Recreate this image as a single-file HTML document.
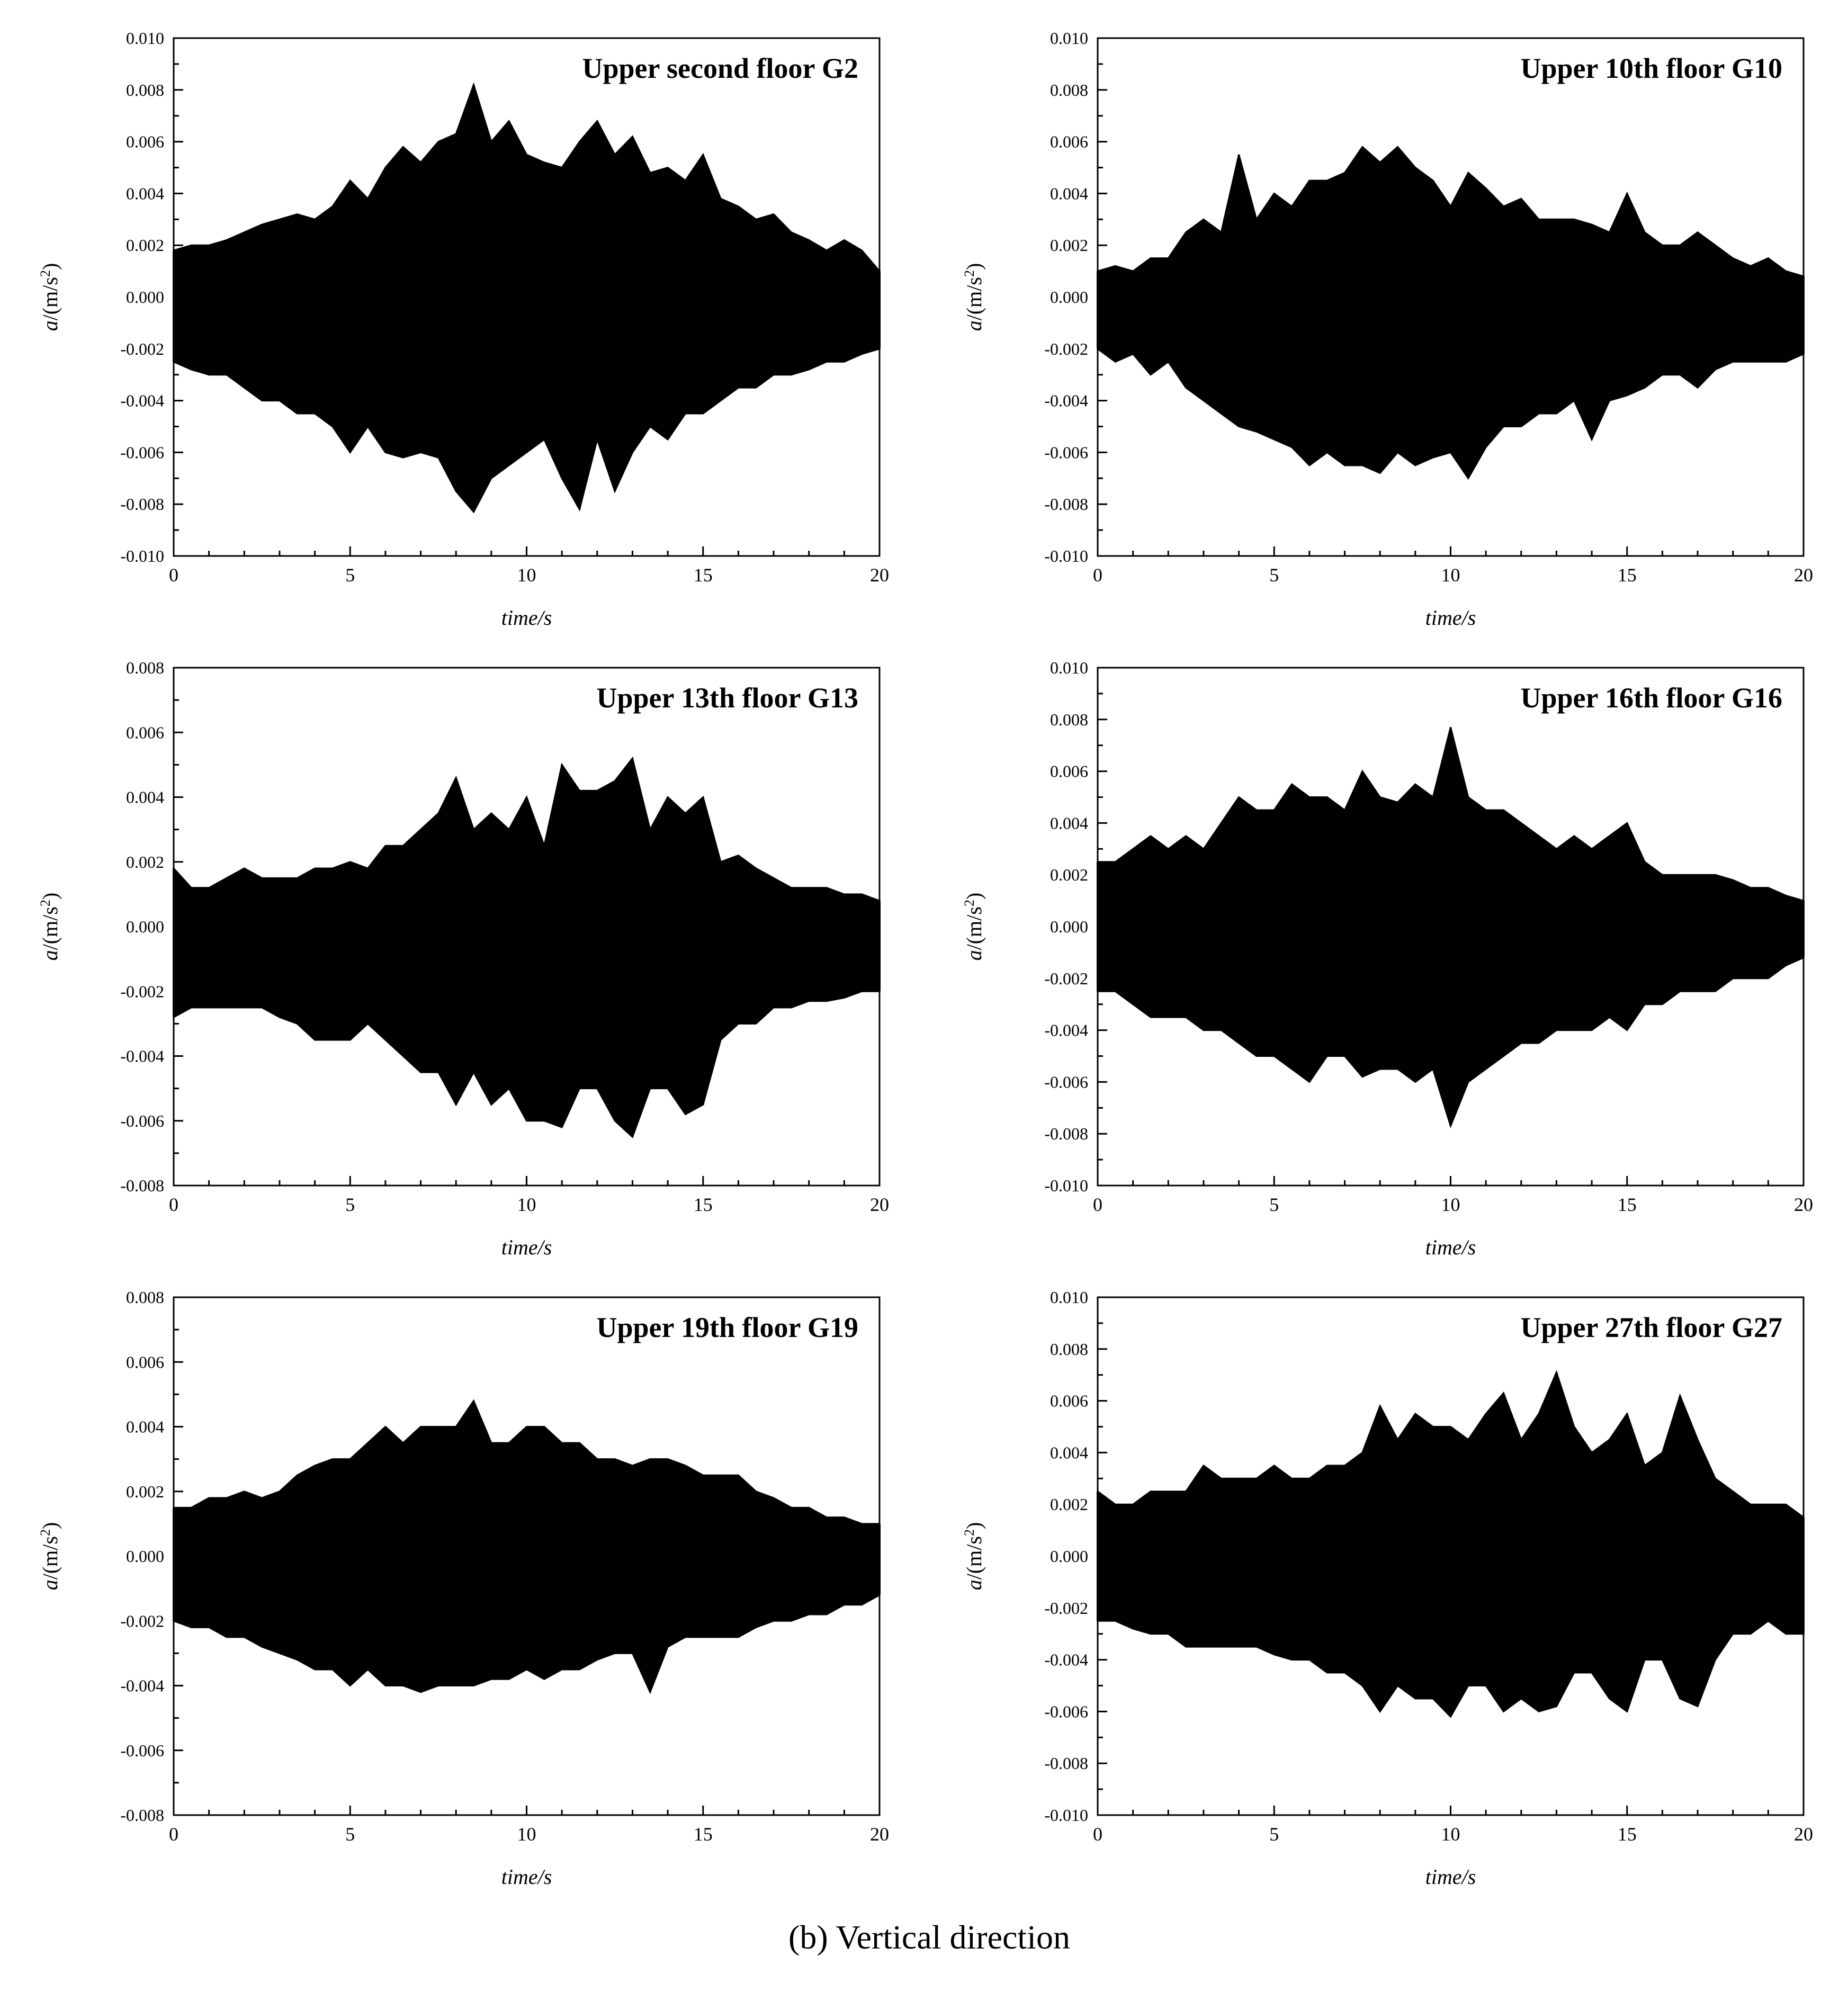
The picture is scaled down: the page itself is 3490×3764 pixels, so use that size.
<!DOCTYPE html>
<html><head><meta charset="utf-8">
<style>
html,body{margin:0;padding:0;background:#fff;}
svg{display:block;font-family:"Liberation Serif",serif;}
</style></head>
<body>
<svg id="fig" width="3490" height="3764" viewBox="0 0 3490 3764" xmlns="http://www.w3.org/2000/svg">
<rect width="3490" height="3764" fill="#fff"/>
<text x="1755" y="3680" font-size="64" text-anchor="middle">(b) Vertical direction</text>
</svg>
<script>
const times = [];
for (let i = 0; i <= 40; i++) times.push(i * 0.5);
const xTicks = [0, 5, 10, 15, 20];
const titles = ["Upper second floor G2","Upper 10th floor G10","Upper 13th floor G13","Upper 16th floor G16","Upper 19th floor G19","Upper 27th floor G27"];
const yLimits = [10, 10, 8, 10, 8, 10];
const upperG2 = [1.8,2.0,2.0,2.2,2.5,2.8,3.0,3.2,3.0,3.5,4.5,3.8,5.0,5.8,5.2,6.0,6.3,8.2,6.0,6.8,5.5,5.2,5.0,6.0,6.8,5.5,6.2,4.8,5.0,4.5,5.5,3.8,3.5,3.0,3.2,2.5,2.2,1.8,2.2,1.8,1.0];
const lowerG2 = [-2.5,-2.8,-3,-3,-3.5,-4,-4,-4.5,-4.5,-5,-6,-5,-6,-6.2,-6,-6.2,-7.5,-8.3,-7,-6.5,-6,-5.5,-7,-8.2,-5.5,-7.5,-6,-5,-5.5,-4.5,-4.5,-4,-3.5,-3.5,-3,-3,-2.8,-2.5,-2.5,-2.2,-2.0];
const upperG10 = [1.0,1.2,1.0,1.5,1.5,2.5,3,2.5,5.5,3,4,3.5,4.5,4.5,4.8,5.8,5.2,5.8,5,4.5,3.5,4.8,4.2,3.5,3.8,3,3,3,2.8,2.5,4,2.5,2,2,2.5,2,1.5,1.2,1.5,1,0.8];
const lowerG10 = [-2,-2.5,-2.2,-3,-2.5,-3.5,-4,-4.5,-5,-5.2,-5.5,-5.8,-6.5,-6,-6.5,-6.5,-6.8,-6,-6.5,-6.2,-6,-7,-5.8,-5,-5,-4.5,-4.5,-4,-5.5,-4,-3.8,-3.5,-3,-3,-3.5,-2.8,-2.5,-2.5,-2.5,-2.5,-2.2];
const upperG13 = [1.8,1.2,1.2,1.5,1.8,1.5,1.5,1.5,1.8,1.8,2,1.8,2.5,2.5,3,3.5,4.6,3,3.5,3,4,2.5,5,4.2,4.2,4.5,5.2,3,4,3.5,4,2,2.2,1.8,1.5,1.2,1.2,1.2,1,1,0.8];
const lowerG13 = [-2.8,-2.5,-2.5,-2.5,-2.5,-2.5,-2.8,-3,-3.5,-3.5,-3.5,-3,-3.5,-4,-4.5,-4.5,-5.5,-4.5,-5.5,-5,-6,-6,-6.2,-5,-5,-6,-6.5,-5,-5,-5.8,-5.5,-3.5,-3,-3,-2.5,-2.5,-2.3,-2.3,-2.2,-2,-2];
const upperG16 = [2.5,2.5,3,3.5,3,3.5,3,4,5,4.5,4.5,5.5,5,5,4.5,6,5,4.8,5.5,5,7.7,5,4.5,4.5,4,3.5,3,3.5,3,3.5,4,2.5,2,2,2,2,1.8,1.5,1.5,1.2,1.0];
const lowerG16 = [-2.5,-2.5,-3,-3.5,-3.5,-3.5,-4,-4,-4.5,-5,-5,-5.5,-6,-5,-5,-5.8,-5.5,-5.5,-6,-5.5,-7.7,-6,-5.5,-5,-4.5,-4.5,-4,-4,-4,-3.5,-4,-3,-3,-2.5,-2.5,-2.5,-2,-2,-2,-1.5,-1.2];
const upperG19 = [1.5,1.5,1.8,1.8,2,1.8,2,2.5,2.8,3,3,3.5,4,3.5,4,4,4,4.8,3.5,3.5,4,4,3.5,3.5,3,3,2.8,3,3,2.8,2.5,2.5,2.5,2,1.8,1.5,1.5,1.2,1.2,1,1];
const lowerG19 = [-2,-2.2,-2.2,-2.5,-2.5,-2.8,-3,-3.2,-3.5,-3.5,-4,-3.5,-4,-4,-4.2,-4,-4,-4,-3.8,-3.8,-3.5,-3.8,-3.5,-3.5,-3.2,-3,-3,-4.2,-2.8,-2.5,-2.5,-2.5,-2.5,-2.2,-2,-2,-1.8,-1.8,-1.5,-1.5,-1.2];
const upperG27 = [2.5,2,2,2.5,2.5,2.5,3.5,3,3,3,3.5,3,3,3.5,3.5,4,5.8,4.5,5.5,5,5,4.5,5.5,6.3,4.5,5.5,7.1,5,4,4.5,5.5,3.5,4,6.2,4.5,3,2.5,2,2,2,1.5];
const lowerG27 = [-2.5,-2.5,-2.8,-3,-3,-3.5,-3.5,-3.5,-3.5,-3.5,-3.8,-4,-4,-4.5,-4.5,-5,-6,-5,-5.5,-5.5,-6.2,-5,-5,-6,-5.5,-6,-5.8,-4.5,-4.5,-5.5,-6,-4,-4,-5.5,-5.8,-4,-3,-3,-2.5,-3,-3];
const uppers = [upperG2, upperG10, upperG13, upperG16, upperG19, upperG27];
const lowers = [lowerG2, lowerG10, lowerG13, lowerG16, lowerG19, lowerG27];

const svg = document.getElementById('fig');
const NS = 'http://www.w3.org/2000/svg';
function mk(tag, attrs){const e=document.createElementNS(NS,tag);for(const k in attrs)e.setAttribute(k,attrs[k]);return e;}
const lefts=[328,2073], tops=[72,1261,2450], W=1333, H=978;

for (let p=0;p<6;p++){
  const x0=lefts[p%2], y0=tops[Math.floor(p/2)];
  const lim=yLimits[p];
  const g=mk('g',{});
  
  
  svg.appendChild(g);
  const sx=t=>x0+t/20*W;
  const sy=v=>y0+H/2-v/lim*(H/2);
  // signal polygon
  let pts=[];
  for(let i=0;i<times.length;i++) pts.push(sx(times[i])+','+sy(uppers[p][i]));
  for(let i=times.length-1;i>=0;i--) pts.push(sx(times[i])+','+sy(lowers[p][i]));
  const poly=mk('polygon',{points:pts.join(' '),fill:'#000',stroke:'#000','stroke-width':3});
  
  
  g.appendChild(poly);
  for(let i=0;i<times.length;i++){
    const sp=mk('line',{x1:sx(times[i]),x2:sx(times[i]),y1:sy(uppers[p][i]),y2:sy(lowers[p][i]),stroke:'#000','stroke-width':4});
    
    
    g.appendChild(sp);
  }
  // frame
  const fr=mk('rect',{x:x0,y:y0,width:W,height:H,fill:'none',stroke:'#000','stroke-width':3});
  
  
  g.appendChild(fr);
  // x ticks
  for(let t=0;t<=20;t++){
    const major=t%5===0;
    g.appendChild(mk('line',{x1:sx(t),x2:sx(t),y1:y0+H,y2:y0+H-(major?18:10),stroke:'#000','stroke-width':3}));
  }
  for(const t of xTicks){
    const tx=mk('text',{x:sx(t),y:y0+H+48,'font-size':36,'text-anchor':'middle'});
    
    
    tx.textContent=t; g.appendChild(tx);
  }
  // y ticks
  for(let v=-lim;v<=lim;v+=1){
    const major=v%2===0;
    g.appendChild(mk('line',{x1:x0,x2:x0+(major?18:10),y1:sy(v),y2:sy(v),stroke:'#000','stroke-width':3}));
    if(major){
      const tx=mk('text',{x:x0-18,y:sy(v)+11,'font-size':32,'text-anchor':'end'});
      
      
      tx.textContent=(v/1000).toFixed(3); g.appendChild(tx);
    }
  }
  // axis titles
  const xt=mk('text',{x:x0+W/2,y:y0+H+130,'font-size':40,'font-style':'italic','text-anchor':'middle'});
  
  
  xt.textContent='time/s'; g.appendChild(xt);
  const yt=mk('text',{x:0,y:0,'font-size':40,'text-anchor':'middle',transform:'translate('+(x0-220)+','+(y0+H/2)+') rotate(-90)'});
  
  
  yt.innerHTML='<tspan font-style="italic">a</tspan>/(m/s<tspan font-size="26" dy="-14">2</tspan><tspan dy="14">)</tspan>';
  g.appendChild(yt);
  // panel title
  const tt=mk('text',{x:x0+W-40,y:y0+75,'font-size':54,'font-weight':'bold','text-anchor':'end'});
  
  
  tt.textContent=titles[p]; g.appendChild(tt);
}
</script>
</body></html>
